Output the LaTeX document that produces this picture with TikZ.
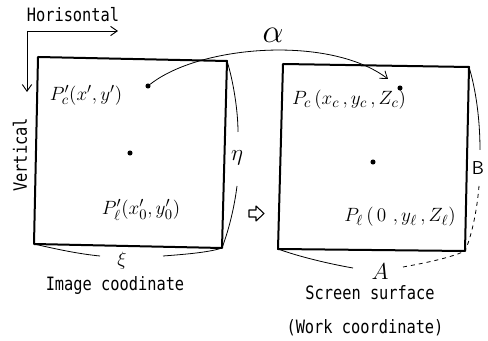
\documentclass[tikz,border=0pt]{standalone}
\usepackage{fontspec}
\usepackage{graphicx}
\setmonofont{DejaVu Sans Mono}
\usetikzlibrary{arrows.meta}
\newcommand{\tallt}[1]{\scalebox{1}[1.2]{#1}}
\begin{document}
\begin{tikzpicture}[x=0.75pt,y=-0.75pt,
  sq/.style={line width=1.5pt, line join=round},
  brace/.style={line width=0.6pt},
  ax/.style={line width=0.7pt, -{Straight Barb[length=5pt,width=7pt]}},
  lbl/.style={font=\ttfamily\fontsize{11.5}{12}\selectfont, inner sep=0},
  mlbl/.style={font=\fontsize{15}{16}\selectfont, inner sep=0},
  dotc/.style={circle, fill, inner sep=0, minimum size=3.8pt}
]
\useasboundingbox (0,0) rectangle (488,341);
\fill[white] (0,0) rectangle (488,341);

% axes
\coordinate (O) at (27,31);
\coordinate (hend) at (118,31);
\coordinate (vend) at (27,92);
\draw[ax] (O) -- (hend);
\draw[ax] (O) -- (vend);
\node[lbl] (hor) at (73,15) {\tallt{Horisontal}};
\node[lbl, rotate=90] (ver) at (20,155) {\tallt{Vertical}};

% left square
\coordinate (LTL) at (38,57);
\coordinate (LTR) at (227,61);
\coordinate (LBR) at (222,248);
\coordinate (LBL) at (34,244);
\draw[sq] (LTL) -- (LTR) -- (LBR) -- (LBL) -- cycle;

% right square
\coordinate (RTL) at (283,64);
\coordinate (RTR) at (469,67);
\coordinate (RBR) at (465,251);
\coordinate (RBL) at (278,249);
\draw[sq] (RTL) -- (RTR) -- (RBR) -- (RBL) -- cycle;

% dots
\node[dotc] (pc1) at (148,86) {};
\node[dotc] (pl1) at (130,153) {};
\node[dotc] (pc) at (400,88) {};
\node[dotc] (pl) at (373,162) {};

% point labels
\node[mlbl] (lpc1) at (86,95) {$P'_{c}(x',y')$};
\node[mlbl] (lpl1) at (141,210) {$P'_{\ell}(x'_0,y'_0)$};
\node[mlbl] (lpc) at (349,100) {$P_{c}\,(x_c\,,y_c\,,Z_c)$};
\node[mlbl] (lpl) at (400,217) {$P_{\ell}\,(\,0\,\,,y_{\ell}\,,Z_{\ell})$};

% alpha mapping
\coordinate (aend) at (388,79);
\draw[brace, -{Straight Barb[length=5pt,width=7pt]}] (pc1) .. controls (200,45) and (330,35) .. (aend);
\node[font=\fontsize{24}{24}\selectfont, inner sep=0] (alpha) at (273,35) {$\alpha$};

% eta brace
\node[font=\fontsize{17}{17}\selectfont, inner sep=0] (eta) at (237,158) {$\eta$};
\draw[brace] (LTR) .. controls (233,80) and (238,110) .. (238,132);
\draw[brace] (237,186) .. controls (234,210) and (228,232) .. (LBR);

% B brace
\node[font=\sffamily\fontsize{14}{14}\selectfont, inner sep=0] (B) at (478,168) {B};
\draw[brace] (RTR) .. controls (476,90) and (480,120) .. (480,150);
\draw[brace, dashed] (479,186) .. controls (477,210) and (472,235) .. (RBR);

% xi brace
\node[font=\fontsize{14}{14}\selectfont, inner sep=0] (xi) at (122,261) {$\xi$};
\draw[brace] (LBL) .. controls (60,250) and (80,254) .. (100,256);
\draw[brace] (163,256) .. controls (190,254) and (210,252) .. (LBR);

% A brace
\node[font=\fontsize{18}{18}\selectfont, inner sep=0] (A) at (380,272) {$A$};
\draw[brace] (RBL) .. controls (300,257) and (330,264) .. (353,268);
\draw[brace, dashed] (403,267) .. controls (425,263) and (450,258) .. (RBR);

% open arrow
\draw[line width=0.8pt, line join=round] (249,210) -- (256,210) -- (256,206) -- (264,213.5) -- (256,221) -- (256,217) -- (249,217) -- cycle;

% captions
\node[lbl] (cap1) at (115,285) {\tallt{Image coodinate}};
\node[lbl] (cap2) at (370,293) {\tallt{Screen surface}};
\node[lbl] (cap3) at (365,328) {\tallt{(Work coordinate)}};
\end{tikzpicture}
\end{document}
